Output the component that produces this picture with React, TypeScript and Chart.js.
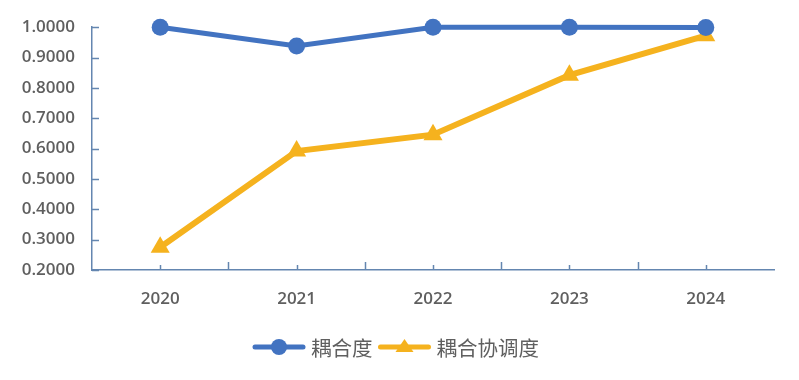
import React, { useEffect, useRef } from "react";
import { Chart, registerables } from "chart.js";

Chart.register(...registerables);

const years = ["2020", "2021", "2022", "2023", "2024"];
const couplingDegree = [1.0, 0.938, 1.0, 1.0, 0.999];
const coordinationDegree = [0.275, 0.592, 0.646, 0.842, 0.972];
const seriesNames = ["耦合度", "耦合协调度"];
const yMin = 0.2;
const yMax = 1.0;
const yStep = 0.1;

const BLUE = "#4273c1";
const GOLD = "#f5b21e";
const AXIS = "#6486b0";
const TEXT = "#5f5f5f";
const NUM_FONT = "'Open Sans', 'Noto Sans', sans-serif";
const CJK_FONT = "'Noto Sans CJK SC', sans-serif";

const axisTicksPlugin = {
  id: "axisTicks",
  beforeDatasetsDraw(chart: any) {
    const { ctx, scales } = chart;
    const xs = scales.x;
    const ys = scales.y;
    const bottom = ys.bottom;
    const left = xs.left;
    ctx.save();
    ctx.strokeStyle = AXIS;
    ctx.lineWidth = 1.5;
    ctx.beginPath();
    for (let i = 0; i < years.length; i++) {
      const px = Math.round(xs.getPixelForValue(i)) + 0.5;
      ctx.moveTo(px, bottom);
      ctx.lineTo(px, bottom - 5);
    }
    for (let i = 1; i < years.length; i++) {
      const px = Math.round((xs.getPixelForValue(i - 1) + xs.getPixelForValue(i)) / 2) + 0.5;
      ctx.moveTo(px, bottom);
      ctx.lineTo(px, bottom - 8);
    }
    ys.ticks.forEach((t: any) => {
      const py = Math.round(ys.getPixelForValue(t.value)) + 0.5;
      ctx.moveTo(left, py);
      ctx.lineTo(left + 7, py);
    });
    ctx.stroke();
    ctx.restore();
  },
};

const customLegendPlugin = {
  id: "customLegend",
  afterDraw(chart: any) {
    const { ctx } = chart;
    const items = [
      { name: seriesNames[0], color: BLUE, style: "circle" },
      { name: seriesNames[1], color: GOLD, style: "triangle" },
    ];
    const lineLen = 52;
    const gap = 6;
    const itemGap = 6;
    ctx.save();
    ctx.font = `20.5px ${CJK_FONT}`;
    const widths = items.map((it) => lineLen + gap + ctx.measureText(it.name).width);
    let x = 253;
    const cy = 347;
    items.forEach((it, i) => {
      ctx.strokeStyle = it.color;
      ctx.lineWidth = 5;
      ctx.lineCap = "round";
      ctx.beginPath();
      ctx.moveTo(x + 2, cy);
      ctx.lineTo(x + lineLen - 2, cy);
      ctx.stroke();
      const mx = x + lineLen / 2;
      ctx.fillStyle = it.color;
      ctx.beginPath();
      if (it.style === "circle") {
        ctx.arc(mx, cy, 8, 0, Math.PI * 2);
      } else {
        ctx.moveTo(mx, cy - 8);
        ctx.lineTo(mx + 9, cy + 5);
        ctx.lineTo(mx - 9, cy + 5);
        ctx.closePath();
      }
      ctx.fill();
      ctx.fillStyle = TEXT;
      ctx.textBaseline = "middle";
      ctx.textAlign = "left";
      ctx.fillText(it.name, x + lineLen + gap, cy + 1);
      x += widths[i] + itemGap;
    });
    ctx.restore();
  },
};

export default function App() {
  const ref = useRef<HTMLCanvasElement | null>(null);

  useEffect(() => {
    document.body.style.margin = "0";
    const canvas = ref.current;
    if (!canvas) return;
    const chart = new Chart(canvas, {
      type: "line",
      data: {
        labels: years,
        datasets: [
          {
            label: seriesNames[0],
            data: couplingDegree,
            borderColor: BLUE,
            backgroundColor: BLUE,
            borderWidth: 5,
            pointStyle: "circle",
            pointRadius: 8.5,
            pointBorderWidth: 0,
            pointBackgroundColor: BLUE,
            tension: 0,
            clip: false as any,
          },
          {
            label: seriesNames[1],
            data: coordinationDegree,
            borderColor: GOLD,
            backgroundColor: GOLD,
            borderWidth: 6,
            pointStyle: "triangle",
            pointRadius: 11,
            pointBorderWidth: 0,
            pointBackgroundColor: GOLD,
            tension: 0,
            clip: false as any,
          },
        ],
      },
      options: {
        responsive: false,
        animation: false,
        layout: { padding: { top: 21, left: 0, right: 25, bottom: 70 } },
        plugins: {
          legend: { display: false },
          tooltip: { enabled: false },
        },
        scales: {
          x: {
            offset: true,
            grid: { display: false, drawTicks: false },
            border: { display: true, color: AXIS, width: 1.5 },
            ticks: {
              color: TEXT,
              padding: 19,
              font: { family: NUM_FONT, size: 17, weight: "600" as any },
            },
            afterFit(scale: any) {
              scale.height = 40;
            },
          },
          y: {
            min: yMin,
            max: yMax,
            grid: { display: false, drawTicks: false },
            border: { display: true, color: AXIS, width: 1.5 },
            ticks: {
              stepSize: yStep,
              color: TEXT,
              padding: 17,
              font: { family: NUM_FONT, size: 17, weight: "600" as any },
              callback: (v: any) => Number(v).toFixed(4),
            },
            afterFit(scale: any) {
              scale.width = 92;
            },
          },
        },
      },
      plugins: [axisTicksPlugin, customLegendPlugin],
    });
    return () => chart.destroy();
  }, []);

  return (
    <div style={{ width: 799, height: 380 }}>
      <canvas ref={ref} width={799} height={380} style={{ display: "block" }} />
    </div>
  );
}
